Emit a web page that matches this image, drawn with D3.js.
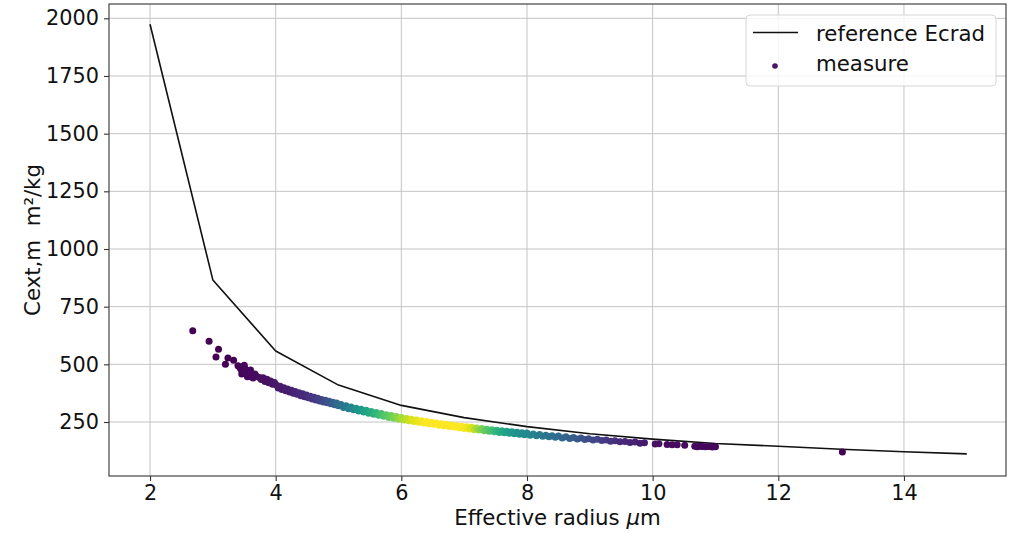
<!DOCTYPE html>
<html>
<head>
<meta charset="utf-8">
<script src="https://cdn.jsdelivr.net/npm/d3@7"></script>
<style>
  html, body { margin: 0; padding: 0; background: #fff; }
  svg { display: block; font-family: "DejaVu Sans", sans-serif; }
</style>
</head>
<body>
<svg id="chart" width="1013" height="533"></svg>
<script>
// Reference extinction coefficient curve (ecRad), one value per integer radius
const ecradRadius = [2, 3, 4, 5, 6, 7, 8, 9, 10, 11, 12, 13, 14, 15];
const ecradCext   = [1974, 866, 558, 410, 322, 269, 230, 199, 176, 157, 145, 132, 121, 112];

// Measurements: [effective radius (µm), Cext (m²/kg), point density 0..1]
const measure = [
  [2.68,646,0.00],[2.94,600,0.00],[3.05,532,0.00],[3.09,565,0.00],[3.20,500,0.00],
  [3.24,528,0.00],[3.33,518,0.00],
  [3.40,494,0.01],[3.43,486,0.01],[3.45,478,0.01],[3.46,458,0.01],[3.47,490,0.01],
  [3.49,470,0.02],[3.50,496,0.02],[3.51,482,0.02],[3.52,462,0.02],[3.54,474,0.02],
  [3.55,446,0.02],[3.56,455,0.02],[3.57,466,0.02],[3.59,448,0.02],[3.60,476,0.02],
  [3.61,460,0.03],[3.63,452,0.03],[3.64,441,0.03],[3.65,445,0.03],[3.67,458,0.03],
  [3.70,447,0.03],[3.74,443,0.04],[3.77,434,0.04],[3.80,442,0.04],[3.83,426,0.04],
  [3.86,435,0.05],[3.89,420,0.05],[3.92,428,0.05],[3.95,414,0.05],[3.98,421,0.06],
  [4.01,410,0.06],[4.04,397,0.06],[4.07,405,0.07],[4.10,391,0.07],[4.13,399,0.07],
  [4.16,386,0.08],[4.19,393,0.08],[4.22,380,0.08],[4.25,388,0.09],[4.28,375,0.09],
  [4.31,382,0.10],[4.34,370,0.10],[4.37,377,0.11],[4.40,364,0.11],[4.43,372,0.12],
  [4.46,359,0.12],[4.49,367,0.13],[4.52,355,0.14],[4.55,362,0.15],[4.58,350,0.15],
  [4.61,357,0.16],[4.64,345,0.17],[4.67,353,0.18],[4.70,341,0.19],[4.73,348,0.20],
  [4.76,337,0.22],[4.79,344,0.23],[4.82,333,0.24],[4.85,340,0.26],[4.88,329,0.27],
  [4.91,336,0.29],[4.94,325,0.31],[4.97,332,0.33],[5.00,321,0.35],
  [5.04,326,0.37],[5.08,313,0.39],[5.12,321,0.41],[5.16,308,0.43],[5.20,315,0.46],
  [5.24,303,0.48],[5.28,310,0.50],[5.32,298,0.52],[5.36,305,0.54],[5.40,293,0.56],
  [5.44,301,0.58],[5.48,288,0.60],[5.52,296,0.62],[5.56,284,0.64],[5.60,291,0.66],
  [5.64,279,0.68],[5.68,287,0.70],[5.72,275,0.72],[5.76,282,0.74],[5.80,270,0.76],
  [5.84,278,0.78],[5.88,266,0.80],[5.92,274,0.82],[5.96,262,0.84],[6.00,270,0.86],
  [6.04,259,0.88],[6.08,265,0.90],[6.12,256,0.92],[6.16,262,0.94],[6.20,252,0.95],
  [6.24,259,0.96],[6.28,249,0.97],[6.32,255,0.98],[6.36,246,0.99],[6.40,252,1.00],
  [6.44,243,1.00],[6.48,249,1.00],[6.52,240,1.00],[6.56,246,1.00],[6.60,236,1.00],
  [6.64,243,1.00],[6.68,234,1.00],[6.72,240,1.00],[6.76,231,1.00],[6.80,237,1.00],
  [6.84,228,1.00],[6.88,234,1.00],[6.92,225,1.00],[6.96,232,1.00],[7.00,222,0.99],
  [7.04,229,0.98],[7.08,220,0.96],[7.12,227,0.93],[7.16,217,0.90],[7.20,224,0.86],
  [7.24,215,0.83],[7.28,222,0.80],[7.32,212,0.77],[7.36,219,0.74],[7.40,210,0.72],
  [7.44,217,0.70],[7.48,208,0.67],[7.52,214,0.65],[7.56,205,0.63],[7.60,212,0.61],
  [7.64,203,0.59],[7.68,210,0.57],[7.72,201,0.56],[7.76,208,0.54],[7.80,199,0.53],
  [7.84,206,0.51],[7.88,197,0.50],[7.92,204,0.49],[7.96,195,0.48],[8.00,202,0.47],
  [8.05,193,0.46],[8.10,198,0.45],[8.15,191,0.43],[8.20,196,0.42],[8.25,188,0.41],
  [8.30,193,0.39],[8.35,186,0.38],[8.40,191,0.37],[8.45,184,0.35],[8.50,189,0.34],
  [8.56,181,0.33],[8.62,186,0.32],[8.68,179,0.30],[8.74,183,0.29],[8.80,176,0.28],
  [8.86,181,0.26],[8.92,174,0.25],[8.98,178,0.23],
  [9.05,172,0.22],[9.12,175,0.20],[9.19,170,0.18],[9.26,172,0.17],[9.33,167,0.15],
  [9.40,169,0.14],[9.48,164,0.12],[9.56,166,0.11],[9.64,161,0.10],[9.72,163,0.09],
  [9.80,158,0.08],[9.87,160,0.07],
  [10.04,155,0.04],[10.10,156,0.04],[10.23,153,0.03],[10.31,152,0.03],[10.39,152,0.03],
  [10.51,149,0.03],[10.67,145,0.02],[10.71,143,0.02],[10.75,145,0.02],[10.79,144,0.02],
  [10.84,143,0.02],[10.90,144,0.02],[10.95,142,0.02],[11.00,143,0.02],
  [13.02,120,0.00]
];

const xTicks = [2, 4, 6, 8, 10, 12, 14];
const yTicks = [250, 500, 750, 1000, 1250, 1500, 1750, 2000];

const svg = d3.select("#chart");
const plot = { left: 109, right: 1006, top: 4, bottom: 476 };

const x = d3.scaleLinear().domain([1.347, 15.624]).range([plot.left, plot.right]);
const y = d3.scaleLinear().domain([16, 2062]).range([plot.bottom, plot.top]);

const textColor = "#111";
const tickFont = 20.8;
const labelFont = 21.3;

// grid
const grid = svg.append("g");
grid.selectAll(".gx").data(xTicks).join("line")
  .attr("x1", d => x(d)).attr("x2", d => x(d))
  .attr("y1", plot.top).attr("y2", plot.bottom)
  .attr("stroke", "#c4c4c4").attr("stroke-width", 1);
grid.selectAll(".gy").data(yTicks).join("line")
  .attr("x1", plot.left).attr("x2", plot.right)
  .attr("y1", d => y(d)).attr("y2", d => y(d))
  .attr("stroke", "#c4c4c4").attr("stroke-width", 1);

// reference curve
const line = d3.line().x(d => x(d[0])).y(d => y(d[1]));
svg.append("path")
  .datum(ecradRadius.map((r, i) => [r, ecradCext[i]]))
  .attr("d", line)
  .attr("fill", "none")
  .attr("stroke", "#111")
  .attr("stroke-width", 1.6)
  .attr("stroke-linejoin", "round");

// measurement scatter coloured by density
const color = d3.scaleSequential(d3.interpolateViridis).domain([0, 1]);
svg.append("g").selectAll("circle").data(measure).join("circle")
  .attr("cx", d => x(d[0]))
  .attr("cy", d => y(d[1]))
  .attr("r", 3.5)
  .attr("fill", d => color(d[2]));

// axes
const xAxis = svg.append("g")
  .attr("transform", `translate(0,${plot.bottom})`)
  .call(d3.axisBottom(x).tickValues(xTicks).tickSize(5).tickPadding(4).tickFormat(d3.format("d")));
const yAxis = svg.append("g")
  .attr("transform", `translate(${plot.left},0)`)
  .call(d3.axisLeft(y).tickValues(yTicks).tickSize(5).tickPadding(5).tickFormat(d3.format("d")));
[xAxis, yAxis].forEach(a => {
  a.select(".domain").remove();
  a.selectAll(".tick line").attr("stroke", "#333").attr("stroke-width", 1.1);
  a.selectAll(".tick text")
    .attr("fill", textColor)
    .style("font-family", "DejaVu Sans")
    .style("font-size", tickFont + "px");
});

// frame
svg.append("rect")
  .attr("x", plot.left).attr("y", plot.top)
  .attr("width", plot.right - plot.left).attr("height", plot.bottom - plot.top)
  .attr("fill", "none").attr("stroke", "#333").attr("stroke-width", 1.1);

// axis labels
const xl = svg.append("text")
  .attr("x", (plot.left + plot.right) / 2).attr("y", 525)
  .attr("text-anchor", "middle")
  .attr("fill", textColor)
  .style("font-size", labelFont + "px");
xl.append("tspan").text("Effective radius ");
xl.append("tspan").attr("font-style", "italic").text("μ");
xl.append("tspan").text("m");

svg.append("text")
  .attr("transform", `translate(39.5,${(plot.top + plot.bottom) / 2}) rotate(-90)`)
  .attr("text-anchor", "middle")
  .attr("fill", textColor)
  .style("font-size", labelFont + "px")
  .style("white-space", "pre")
  .text("Cext,m  m²/kg");

// legend
const lg = svg.append("g");
lg.append("rect")
  .attr("x", 746).attr("y", 15).attr("width", 250).attr("height", 71)
  .attr("rx", 4)
  .attr("fill", "#fff").attr("fill-opacity", 0.8)
  .attr("stroke", "#d6d6d6").attr("stroke-width", 1);
lg.append("line")
  .attr("x1", 753).attr("x2", 798).attr("y1", 32.5).attr("y2", 32.5)
  .attr("stroke", "#111").attr("stroke-width", 1.6);
lg.append("circle")
  .attr("cx", 775).attr("cy", 66).attr("r", 2.8)
  .attr("fill", color(0.05));
lg.append("text").attr("x", 816).attr("y", 40.5)
  .attr("fill", textColor).style("font-size", labelFont + "px")
  .text("reference Ecrad");
lg.append("text").attr("x", 816).attr("y", 71)
  .attr("fill", textColor).style("font-size", labelFont + "px")
  .text("measure");
</script>
</body>
</html>
